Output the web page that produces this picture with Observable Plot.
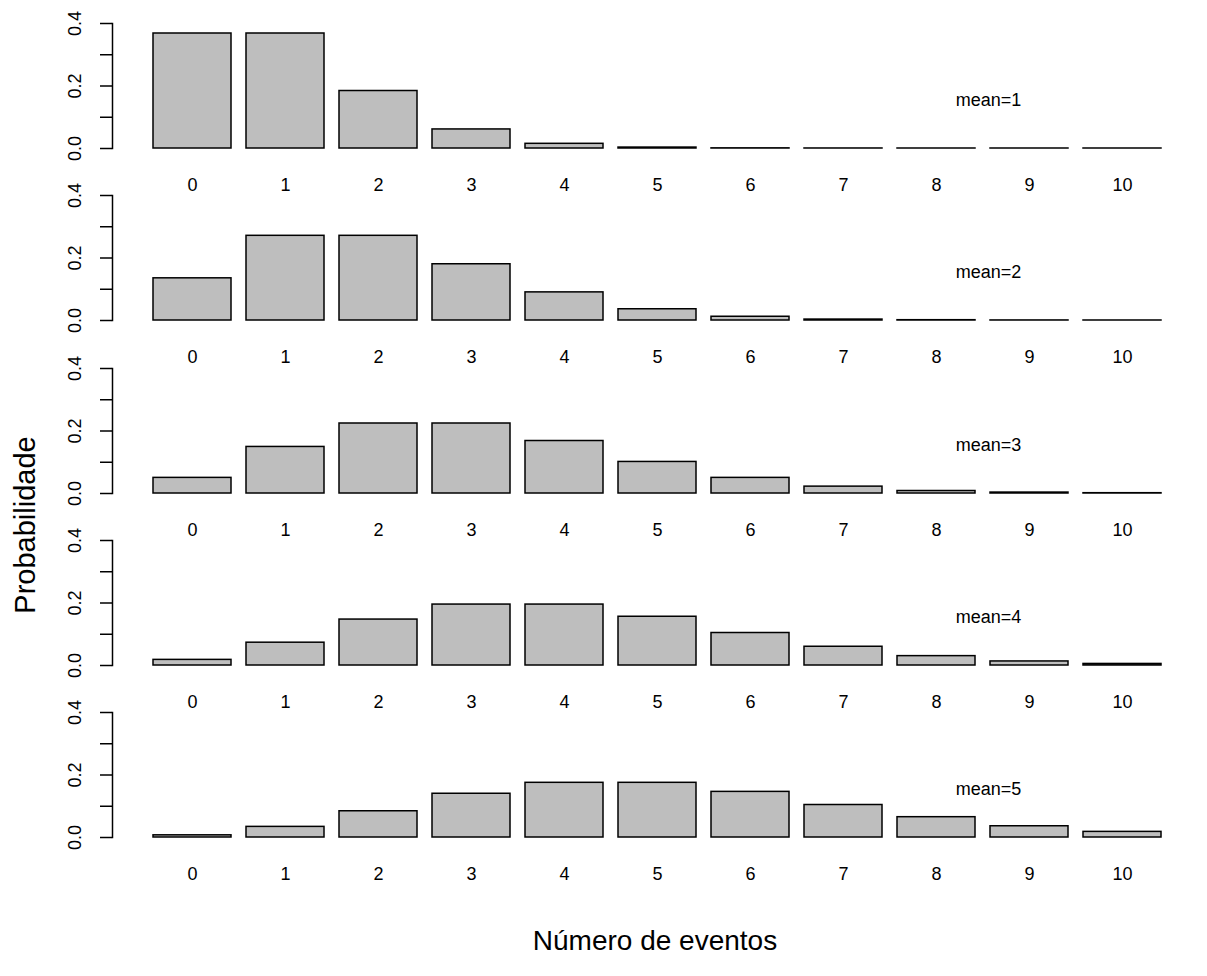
<!DOCTYPE html>
<html>
<head>
<meta charset="utf-8">
<script src="https://cdn.jsdelivr.net/npm/d3@7"></script>
<script src="https://cdn.jsdelivr.net/npm/@observablehq/plot@0.6"></script>
<style>
  html, body { margin: 0; padding: 0; background: white; }
  #chart { position: relative; width: 1207px; height: 976px; background: white; font-family: "Liberation Sans", Arial, sans-serif; color: black; }
  .panel { position: absolute; left: 0; }
  .ytitle { position: absolute; left: 25px; top: 525px; transform: translate(-50%, -50%) rotate(-90deg); font-size: 29px; white-space: nowrap; line-height: 1; }
  .xtitle { position: absolute; left: 655px; top: 941px; transform: translate(-50%, -50%); font-size: 28px; white-space: nowrap; line-height: 1; }
</style>
</head>
<body>
<div id="chart"></div>
<script>
// Number of events (x categories)
const counts = [0, 1, 2, 3, 4, 5, 6, 7, 8, 9, 10];
// Means shown in each panel
const means = [1, 2, 3, 4, 5];
// Probabilities, one array per panel
const probMean1 = [0.368, 0.368, 0.184, 0.061, 0.015, 0.003, 0.0005, 0.0001, 0.00001, 0.000001, 0.0000001];
const probMean2 = [0.135, 0.271, 0.271, 0.180, 0.090, 0.036, 0.012, 0.003, 0.001, 0.0002, 0.00004];
const probMean3 = [0.050, 0.149, 0.224, 0.224, 0.168, 0.101, 0.050, 0.022, 0.008, 0.003, 0.001];
const probMean4 = [0.018, 0.073, 0.147, 0.195, 0.195, 0.156, 0.104, 0.060, 0.030, 0.013, 0.005];
const probMean5 = [0.007, 0.034, 0.084, 0.140, 0.175, 0.175, 0.146, 0.104, 0.065, 0.036, 0.018];
const probs = [probMean1, probMean2, probMean3, probMean4, probMean5];
// Axis ticks
const yTicks = [0, 0.1, 0.2, 0.3, 0.4];
const yLabelValues = [0, 0.2, 0.4];
const yLabelTexts = ["0.0", "0.2", "0.4"];
const xTitle = "Número de eventos";
const yTitle = "Probabilidade";

const font = "'Liberation Sans', Arial, sans-serif";
const panelTops = [13, 185, 358, 530, 702];
const container = document.getElementById("chart");

means.forEach((m, i) => {
  const data = counts.map((k, j) => ({k, p: probs[i][j]}));
  const yLabels = yLabelValues.map((v, j) => ({v, t: yLabelTexts[j]}));
  const chart = Plot.plot({
    width: 1207,
    height: 190,
    marginLeft: 112,
    marginRight: 5,
    marginTop: 10,
    marginBottom: 55,
    style: {background: "transparent", fontFamily: font, color: "black", overflow: "visible"},
    x: {domain: counts, paddingInner: 0.16, paddingOuter: 0.433, axis: null},
    y: {domain: [0, 0.4], axis: null},
    marks: [
      Plot.barY(data, {x: "k", y: "p", fill: "#bebebe", stroke: "black", strokeWidth: 1.5}),
      Plot.frame({anchor: "left", stroke: "black", strokeWidth: 1.5}),
      Plot.axisY(yTicks, {anchor: "left", tickSize: 12, tickFormat: () => "", stroke: "black", strokeWidth: 1.5}),
      Plot.text(yLabels, {y: "v", text: "t", frameAnchor: "left", textAnchor: "middle", dx: -37, rotate: -90, fontSize: 18, lineAnchor: "middle", fill: "black"}),
      Plot.text(counts, {x: d => d, text: d => String(d), frameAnchor: "bottom", dy: 37, fontSize: 18, lineAnchor: "middle", fill: "black"}),
      Plot.text([`mean=${m}`], {x: () => counts[8], y: () => 0.155, text: d => d, dx: 52, fontSize: 18, lineAnchor: "middle", fill: "black"})
    ]
  });
  chart.classList.add("panel");
  chart.style.top = panelTops[i] + "px";
  chart.style.position = "absolute";
  chart.style.left = "0px";
  container.appendChild(chart);
});

const yt = document.createElement("div");
yt.className = "ytitle";
yt.textContent = yTitle;
container.appendChild(yt);
const xt = document.createElement("div");
xt.className = "xtitle";
xt.textContent = xTitle;
container.appendChild(xt);
</script>
</body>
</html>
